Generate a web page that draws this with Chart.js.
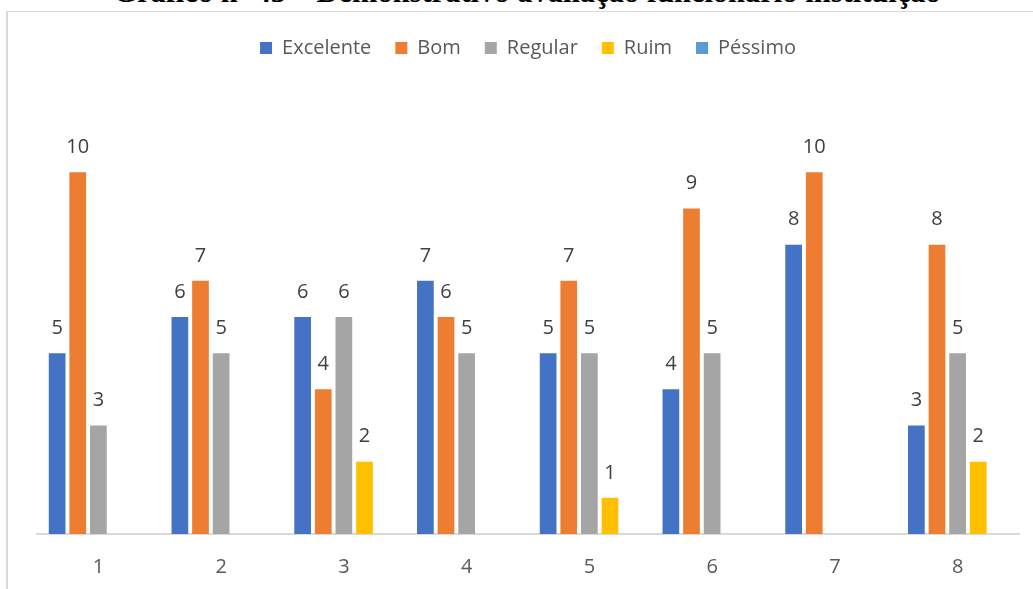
<!DOCTYPE html>
<html>
<head>
<meta charset="utf-8">
<script src="https://cdn.jsdelivr.net/npm/chart.js@4.4.1/dist/chart.umd.min.js"></script>
<style>
  html, body { margin: 0; padding: 0; background: #fff; overflow: hidden; }
  #wrap { position: relative; width: 1033px; height: 589px; overflow: hidden; }
  #title { position: absolute; left: 0; width: 1054px; top: -23px; text-align: center;
           font-family: "Liberation Serif", "DejaVu Serif", serif; font-weight: bold;
           font-size: 30.5px; line-height: 30px; color: #000; white-space: nowrap; }
  #frame { position: absolute; left: 6px; top: 11px; width: 1040px; height: 600px;
           border-left: 2px solid #d9d9d9; border-top: 1px solid #d9d9d9; }
  #c { position: absolute; left: 0; top: 0; }
</style>
</head>
<body>
<div id="wrap">
  <div id="title">Gráfico nº 43 – Demonstrativo avaliação funcionário instituição</div>
  <div id="frame"></div>
  <canvas id="c" width="1033" height="589"></canvas>
</div>
<script>
const categories = ["1", "2", "3", "4", "5", "6", "7", "8"];
const seriesNames = ["Excelente", "Bom", "Regular", "Ruim", "Péssimo"];
const excelente = [5, 6, 6, 7, 5, 4, 8, 3];
const bom       = [10, 7, 4, 6, 7, 9, 10, 8];
const regular   = [3, 5, 6, 5, 5, 5, 0, 5];
const ruim      = [0, 0, 2, 0, 1, 0, 0, 2];
const pessimo   = [0, 0, 0, 0, 0, 0, 0, 0];
const colors = ["#4472C4", "#ED7D31", "#A5A5A5", "#FFC000", "#5B9BD5"];

const seriesData = [excelente, bom, regular, ruim, pessimo];
const FONT = '"Open Sans", "Liberation Sans", sans-serif';

const valueLabels = {
  id: 'valueLabels',
  afterDatasetsDraw(chart) {
    const ctx = chart.ctx;
    ctx.save();
    ctx.font = '20px ' + FONT;
    ctx.fillStyle = '#404040';
    ctx.textAlign = 'center';
    ctx.textBaseline = 'middle';
    chart.data.datasets.forEach((ds, i) => {
      const meta = chart.getDatasetMeta(i);
      meta.data.forEach((bar, j) => {
        const v = ds.data[j];
        if (!v) return;
        ctx.fillText(String(v), bar.x, bar.y - 25);
      });
    });
    ctx.restore();
  }
};

const legendSpace = {
  id: 'legendSpace',
  beforeInit(chart) {
    const fit = chart.legend.fit;
    chart.legend.fit = function () {
      fit.bind(chart.legend)();
      this.height += 32;
    };
  }
};

new Chart(document.getElementById('c'), {
  type: 'bar',
  data: {
    labels: categories,
    datasets: seriesNames.map((name, i) => ({
      label: name,
      data: seriesData[i],
      backgroundColor: colors[i],
      borderWidth: 0,
      categoryPercentage: 0.84,
      barPercentage: 0.81
    }))
  },
  options: {
    responsive: false,
    animation: false,
    layout: { padding: { left: 37, right: 14, top: 14, bottom: 0 } },
    plugins: {
      legend: {
        position: 'top',
        labels: {
          boxWidth: 12, boxHeight: 12, padding: 24,
          color: '#595959',
          font: { size: 20, family: FONT }
        }
      },
      tooltip: { enabled: false }
    },
    scales: {
      x: {
        grid: { display: false, drawTicks: false },
        border: { display: true, color: '#d9d9d9', width: 2 },
        ticks: { color: '#595959', padding: 21, font: { size: 20, family: FONT } },
        afterFit(scale) { scale.height = 55; }
      },
      y: {
        display: false,
        min: 0, max: 12
      }
    }
  },
  plugins: [valueLabels, legendSpace]
});
</script>
</body>
</html>
